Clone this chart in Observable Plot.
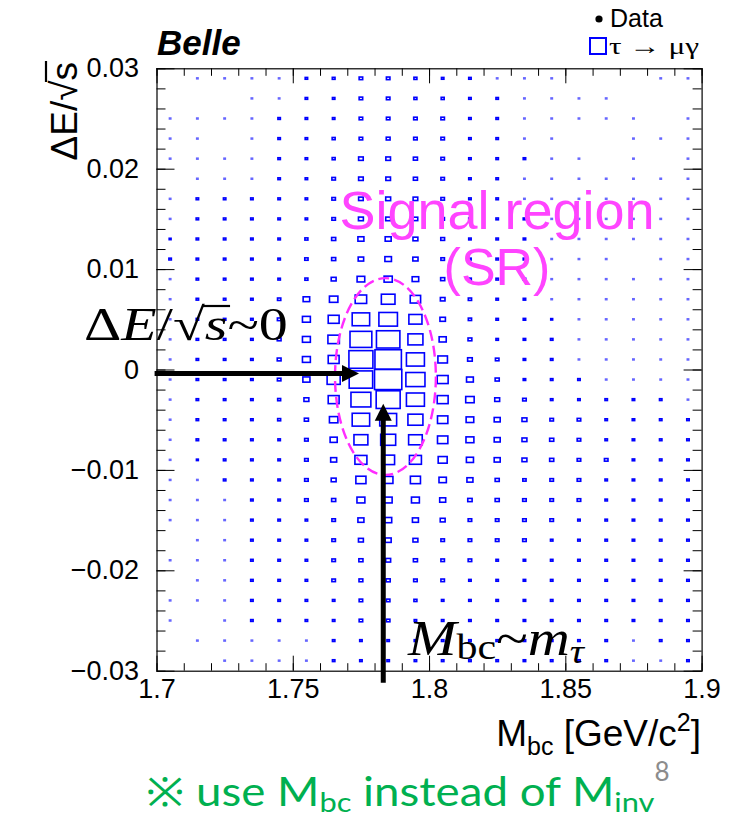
<!DOCTYPE html>
<html><head><meta charset="utf-8">
<script src="https://cdn.jsdelivr.net/npm/d3@7"></script>
<script src="https://cdn.jsdelivr.net/npm/@observablehq/plot@0.6"></script>
<style>body{margin:0;background:#fff} svg{display:block}</style>
</head><body><div id="chart"></div>
<script>
// ---- data ----
const mbcCenters = [1.705,1.715,1.725,1.735,1.745,1.755,1.765,1.775,1.785,1.795,1.805,1.815,1.825,1.835,1.845,1.855,1.865,1.875,1.885,1.895];
const deCenters = [0.029,0.027,0.025,0.023,0.021,0.019,0.017,0.015,0.013,0.011,0.009,0.007,0.005,0.003,0.001,-0.001,-0.003,-0.005,-0.007,-0.009,-0.011,-0.013,-0.015,-0.017,-0.019,-0.021,-0.023,-0.025,-0.027,-0.029];
const binWidth = 0.01, binHeight = 0.002;
// box side as % of the bin (tau -> mu gamma MC), rows top (dE/sqrt(s)=0.029) to bottom
const boxSize = [
 [0,6,6,6,6,9,10,13,13,11, 9,9,6,6,6,0,0,0,6,6],
 [0,0,0,6,6,9,9,13,13,11, 11,9,9,6,6,6,6,0,0,0],
 [6,6,6,6,9,9,9,13,13,13, 13,9,9,6,6,6,6,6,0,6],
 [6,6,0,6,9,9,11,13,14,13, 13,9,9,6,6,0,0,6,6,6],
 [6,6,6,6,9,9,11,17,17,15, 13,9,9,9,6,6,0,6,0,6],
 [0,6,6,6,9,9,13,17,17,15, 13,9,9,6,6,6,6,6,6,6],
 [6,9,9,9,9,9,13,17,18,17, 13,9,9,6,6,6,6,6,6,6],
 [6,9,9,9,9,9,13,18,18,17, 13,9,9,9,6,6,6,6,6,6],
 [7,9,9,9,9,11,15,22,22,18, 14,9,9,9,6,6,6,6,6,6],
 [9,9,9,9,9,12,15,20,24,19, 13,9,9,9,6,6,6,0,6,6],
 [6,9,9,9,9,11,18,28,30,24, 15,10,9,9,6,6,6,6,6,6],
 [6,9,9,9,12,24,31,42,50,38, 17,12,9,9,6,6,6,6,6,6],
 [6,9,9,9,13,29,40,64,68,48, 20,12,9,9,7,6,6,6,6,6],
 [6,9,9,9,14,29,42,80,86,55, 26,14,9,9,9,6,6,6,6,6],
 [6,9,9,9,14,29,40,88,97,66, 35,17,13,9,9,6,6,6,6,6],
 [6,9,9,9,13,26,48,86,100,70, 40,25,15,9,9,9,6,6,6,6],
 [6,9,9,9,11,18,40,73,88,66, 40,31,18,13,9,9,9,9,9,6],
 [6,9,9,9,11,15,31,64,62,55, 38,28,22,18,13,13,9,9,9,9],
 [6,9,9,9,9,13,26,51,55,50, 38,29,22,18,15,13,9,9,9,9],
 [6,7,9,9,9,13,22,44,47,44, 33,26,22,18,15,13,13,9,9,9],
 [6,6,9,9,9,13,18,37,35,37, 27,22,15,12,13,13,9,9,9,9],
 [6,6,6,9,9,13,15,29,29,29, 22,16,15,13,13,13,9,9,9,9],
 [6,6,6,9,9,9,13,22,26,22, 18,13,13,13,13,9,9,9,9,9],
 [0,6,6,9,9,9,13,18,22,18, 13,13,13,13,9,9,9,9,9,9],
 [6,6,6,9,9,9,13,15,18,15, 13,13,9,9,9,9,9,9,9,9],
 [0,6,6,9,9,9,13,14,15,13, 13,9,9,9,9,9,9,9,9,9],
 [6,6,6,9,9,9,9,13,13,11, 9,9,9,9,9,9,9,9,9,9],
 [6,0,6,9,9,9,9,13,13,9, 9,9,9,9,9,9,9,9,9,9],
 [0,6,6,6,6,6,9,9,9,9, 9,9,9,9,9,9,9,6,9,9],
 [0,0,6,6,6,6,9,9,9,9, 9,9,9,9,9,9,9,6,6,9]
];
const xTicks = [1.7, 1.75, 1.8, 1.85, 1.9];
const xTickLabels = ["1.7", "1.75", "1.8", "1.85", "1.9"];
const yTicks = [0.03, 0.02, 0.01, 0, -0.01, -0.02, -0.03];
const yTickLabels = ["0.03", "0.02", "0.01", "0", "\u22120.01", "\u22120.02", "\u22120.03"];
// annotations (data coordinates)
const srEllipse = {cx: 1.7840, cy: -0.0007, rx: 0.0185, ry: 0.0098};
const arrowDE = {x1: 1.6993, x2: 1.7743, y: -0.0004};
const arrowMbc = {x: 1.7832, y1: -0.0312, y2: -0.0034};

// ---- layout ----
const W = 733, H = 816;
const mL = 156.5, mR = 31.4, mT = 68.3, mB = 145.3;
const pxX = (1.9 - 1.7) / (W - mL - mR), pxY = 0.06 / (H - mT - mB);

const cells = [];
boxSize.forEach((row, j) => row.forEach((v, i) => {
  if (v > 0) cells.push({x: mbcCenters[i], y: deCenters[j], v});
}));
const small = cells.filter(d => d.v <= 6), big = cells.filter(d => d.v > 6);
const rectOpts = (o) => ({
  x1: d => d.x - d.v / 100 * binWidth / 2, x2: d => d.x + d.v / 100 * binWidth / 2,
  y1: d => d.y - d.v / 100 * binHeight / 2, y2: d => d.y + d.v / 100 * binHeight / 2,
  fill: "none", stroke: "#0000ff", strokeWidth: 1.6, ...o
});

const xMinor = d3.range(0, 21).map(i => 1.7 + i * 0.01);
const yMinor = d3.range(0, 31).map(i => -0.03 + i * 0.002);
const tl = {xMaj: 15 * pxY, xMin: 7.5 * pxY, yMaj: 18 * pxX, yMin: 9 * pxX};

const plot = Plot.plot({
  width: W, height: H,
  marginLeft: mL, marginRight: mR, marginTop: mT, marginBottom: mB,
  x: {domain: [1.7, 1.9], axis: null},
  y: {domain: [-0.03, 0.03], axis: null},
  style: {fontFamily: "'Liberation Sans', Arial, sans-serif", background: "white", overflow: "visible", color: "black"},
  marks: [
    Plot.rect(small, rectOpts({strokeOpacity: 0.6, strokeWidth: 1.3})),
    Plot.rect(big, rectOpts({})),
    // inward ticks, bottom/top
    Plot.ruleX(xMinor, {x: d => d, y1: () => -0.03, y2: () => -0.03 + tl.xMin, stroke: "black"}),
    Plot.ruleX(xTicks, {x: d => d, y1: () => -0.03, y2: () => -0.03 + tl.xMaj, stroke: "black"}),
    Plot.ruleX(xMinor, {x: d => d, y1: () => 0.03, y2: () => 0.03 - tl.xMin, stroke: "black"}),
    Plot.ruleX(xTicks, {x: d => d, y1: () => 0.03, y2: () => 0.03 - tl.xMaj, stroke: "black"}),
    // inward ticks, left/right
    Plot.ruleY(yMinor, {y: d => d, x1: () => 1.7, x2: () => 1.7 + tl.yMin, stroke: "black"}),
    Plot.ruleY(yTicks, {y: d => d, x1: () => 1.7, x2: () => 1.7 + tl.yMaj, stroke: "black"}),
    Plot.ruleY(yMinor, {y: d => d, x1: () => 1.9, x2: () => 1.9 - tl.yMin, stroke: "black"}),
    Plot.ruleY(yTicks, {y: d => d, x1: () => 1.9, x2: () => 1.9 - tl.yMaj, stroke: "black"}),
    Plot.frame({stroke: "black", strokeWidth: 1.2}),
    Plot.axisX(xTicks, {tickSize: 0, tickPadding: 8, fontSize: 27, label: null,
      tickFormat: d => xTickLabels[xTicks.indexOf(d)], fill: "black"}),
    Plot.axisY(yTicks, {tickSize: 0, tickPadding: 18, fontSize: 27, label: null,
      tickFormat: d => yTickLabels[yTicks.indexOf(d)], fill: "black"})
  ]
});
document.getElementById("chart").appendChild(plot);

const svg = d3.select(plot);
const X = v => plot.scale("x").apply(v), Y = v => plot.scale("y").apply(v);
const SANS = "'Liberation Sans', Arial, sans-serif";
const SERIF = "'Liberation Serif', 'DejaVu Serif', serif";
const CAL = "Lato, 'Open Sans', sans-serif";

function addText(parent, x, y, str, attrs) {
  const t = parent.append("text").attr("x", x).attr("y", y).attr("text-anchor", "start");
  for (const k in attrs) t.attr(k, attrs[k]);
  if (str != null) t.text(str);
  return t;
}
// squeeze/stretch a group horizontally around x0 to make width = target
function fitGroup(g, textNode, x0, target) {
  const w = textNode.getComputedTextLength();
  if (w > 0) g.attr("transform", `translate(${x0},0) scale(${target / w},1) translate(${-x0},0)`);
}

// signal region ellipse
svg.append("ellipse")
  .attr("cx", X(srEllipse.cx)).attr("cy", Y(srEllipse.cy))
  .attr("rx", X(srEllipse.cx + srEllipse.rx) - X(srEllipse.cx))
  .attr("ry", Y(srEllipse.cy - srEllipse.ry) - Y(srEllipse.cy))
  .attr("fill", "none").attr("stroke", "#ff2cff").attr("stroke-width", 2.4)
  .attr("stroke-dasharray", "11,5");

// Signal region text
addText(svg, 497, 229, "Signal region", {"text-anchor": "middle", "font-family": SANS, "font-size": 54, fill: "#ff44ff"});
addText(svg, 497, 285, "(SR)", {"text-anchor": "middle", "font-family": SANS, "font-size": 52, fill: "#ff44ff"});

// Belle
addText(svg, 157, 55, "Belle", {"font-family": SANS, "font-size": 35, "font-weight": "bold", "font-style": "italic"});

// legend
svg.append("circle").attr("cx", 599).attr("cy", 19).attr("r", 3.6).attr("fill", "black");
addText(svg, 610, 27, "Data", {"font-family": SANS, "font-size": 25});
svg.append("rect").attr("x", 590).attr("y", 38).attr("width", 16).attr("height", 16)
  .attr("fill", "none").attr("stroke", "#0000ff").attr("stroke-width", 2);
{
  const g = svg.append("g");
  const t = addText(g, 609, 54, "\u03C4 \u2192 \u03BC\u03B3", {"font-family": SERIF, "font-size": 24});
  fitGroup(g, t.node(), 609, 90);
}

// y title (rotated)
{
  const g = svg.append("g").attr("transform", "translate(77,62) rotate(-90)");
  const t = addText(g, 0, 0, "\u0394E/\u221As", {"text-anchor": "end", "font-family": SANS, "font-size": 37});
  const n = t.node();
  const r1 = n.getEndPositionOfChar(3).x, s1 = n.getEndPositionOfChar(4).x;
  g.append("line").attr("x1", r1 - 1.5).attr("x2", s1 + 1).attr("y1", -31).attr("y2", -31)
    .attr("stroke", "black").attr("stroke-width", 2.2);
}

// x title
{
  const t = addText(svg, 701, 746, null, {"text-anchor": "end", "font-family": SANS, "font-size": 37});
  t.append("tspan").text("M");
  t.append("tspan").attr("font-size", 25).attr("dy", 9).text("bc");
  t.append("tspan").attr("font-size", 37).attr("dy", -9).text(" [GeV/c");
  t.append("tspan").attr("font-size", 25).attr("dy", -15).text("2");
  t.append("tspan").attr("font-size", 37).attr("dy", 15).text("]");
}

// arrows
function arrowH(x1, x2, y) {
  const px1 = X(x1), px2 = X(x2), py = Y(y), hl = 17, hw = 8.5;
  svg.append("line").attr("x1", px1).attr("x2", px2 - hl + 1).attr("y1", py).attr("y2", py)
    .attr("stroke", "black").attr("stroke-width", 5);
  svg.append("path").attr("d", `M${px2},${py}L${px2 - hl},${py - hw}L${px2 - hl},${py + hw}Z`).attr("fill", "black");
}
function arrowV(x, y1, y2) {
  const px = X(x), py1 = Y(y1), py2 = Y(y2), hl = 17, hw = 8.5;
  svg.append("line").attr("x1", px).attr("x2", px).attr("y1", py1).attr("y2", py2 + hl - 1)
    .attr("stroke", "black").attr("stroke-width", 5);
  svg.append("path").attr("d", `M${px},${py2}L${px - hw},${py2 + hl}L${px + hw},${py2 + hl}Z`).attr("fill", "black");
}
arrowH(arrowDE.x1, arrowDE.x2, arrowDE.y);
arrowV(arrowMbc.x, arrowMbc.y1, arrowMbc.y2);

// ΔE/√s~0
{
  const g = svg.append("g");
  const t = addText(g, 84, 340, null, {"font-family": SERIF, "font-size": 46});
  t.append("tspan").text("\u0394");
  t.append("tspan").attr("font-style", "italic").text("E");
  t.append("tspan").text("/");
  t.append("tspan").text("\u221A");
  t.append("tspan").attr("font-style", "italic").text("s");
  t.append("tspan").text("~0");
  const n = t.node();
  const r1 = n.getEndPositionOfChar(3).x, s1 = n.getEndPositionOfChar(4).x;
  g.append("line").attr("x1", r1 - 2).attr("x2", s1 + 2).attr("y1", 306).attr("y2", 306)
    .attr("stroke", "black").attr("stroke-width", 2.2);
  fitGroup(g, n, 84, 204);
}
// M_bc ~ m_tau
{
  const g = svg.append("g");
  const t = addText(g, 408, 655, null, {"font-family": SERIF, "font-size": 50});
  t.append("tspan").attr("font-style", "italic").text("M");
  t.append("tspan").attr("font-size", 36).attr("dy", 4).text("bc");
  t.append("tspan").attr("dy", -4).text("~");
  t.append("tspan").attr("font-style", "italic").text("m");
  t.append("tspan").attr("font-style", "italic").attr("font-size", 34).attr("dy", 8).text("\u03C4");
  fitGroup(g, t.node(), 408, 176);
}

// footnote
{
  const g = svg.append("g");
  const t = addText(g, 146, 806, null, {"font-family": CAL, "font-size": 40, fill: "#00b050"});
  t.append("tspan").text("\u203B use M");
  t.append("tspan").attr("font-size", 27).attr("dy", 6).text("bc");
  t.append("tspan").attr("dy", -6).text(" instead of M");
  t.append("tspan").attr("font-size", 27).attr("dy", 6).text("inv");
  fitGroup(g, t.node(), 146, 508);
}
addText(svg, 662, 781, "8", {"text-anchor": "middle", "font-family": CAL, "font-size": 26, fill: "#8c8c8c"});
</script>
</body></html>
